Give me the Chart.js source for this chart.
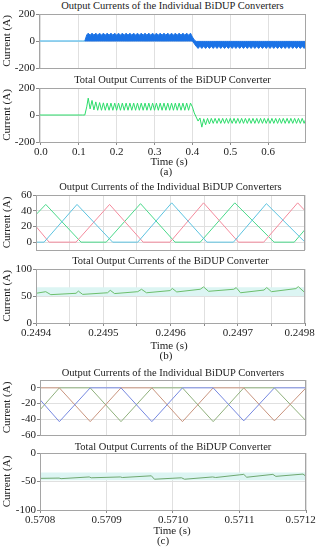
<!DOCTYPE html>
<html>
<head>
<meta charset="utf-8">
<script src="https://cdn.jsdelivr.net/npm/chart.js@4.4.0/dist/chart.umd.min.js"></script>
<style>
  body { margin: 0; width: 318px; height: 550px; background: #fff; position: relative; overflow: hidden;
         font-family: "Liberation Serif", "Times New Roman", serif; color: #222; }
  canvas { position: absolute; left: 0; }
  .t { position: absolute; text-align: center; font-size: 10.5px; line-height: 12px; white-space: nowrap; }
</style>
</head>
<body>
<div class="t" style="left:39px;width:267px;top:0px">Output Currents of the Individual BiDUP Converters</div>
<canvas id="a1"></canvas>
<div class="t" style="left:39px;width:267px;top:74px">Total Output Currents of the BiDUP Converter</div>
<canvas id="a2"></canvas>
<div class="t" style="left:119px;width:100px;top:155px;font-size:11px">Time (s)</div>
<div class="t" style="left:116px;width:100px;top:165px;font-size:11px">(a)</div>

<div class="t" style="left:36px;width:269px;top:181px">Output Currents of the Individual BiDUP Converters</div>
<canvas id="b1"></canvas>
<div class="t" style="left:36px;width:269px;top:255px">Total Output Currents of the BiDUP Converter</div>
<canvas id="b2"></canvas>
<div class="t" style="left:119px;width:100px;top:339px;font-size:11px">Time (s)</div>
<div class="t" style="left:116px;width:100px;top:349px;font-size:11px">(b)</div>

<div class="t" style="left:40px;width:266px;top:367px">Output Currents of the Individual BiDUP Converters</div>
<canvas id="c1"></canvas>
<div class="t" style="left:40px;width:266px;top:441px">Total Output Currents of the BiDUP Converter</div>
<canvas id="c2"></canvas>
<div class="t" style="left:122px;width:100px;top:524px;font-size:11px">Time (s)</div>
<div class="t" style="left:113px;width:100px;top:534px;font-size:11px">(c)</div>

<script>
// ---- (a) 0 - 0.7 s ----
var aTime = [-0.005, 0.110, 0.116, 0.121,
  0.125, 0.130, 0.135, 0.140, 0.145, 0.150, 0.155, 0.160, 0.165, 0.170,
  0.175, 0.180, 0.185, 0.190, 0.195, 0.200, 0.205, 0.210, 0.215, 0.220,
  0.225, 0.230, 0.235, 0.240, 0.245, 0.250, 0.255, 0.260, 0.265, 0.270,
  0.275, 0.280, 0.285, 0.290, 0.295, 0.300, 0.305, 0.310, 0.315, 0.320,
  0.325, 0.330, 0.335, 0.340, 0.345, 0.350, 0.355, 0.360, 0.365, 0.370,
  0.375, 0.380, 0.385, 0.390, 0.395,
  0.400, 0.405, 0.410,
  0.415, 0.420, 0.425, 0.430, 0.435, 0.440, 0.445, 0.450, 0.455, 0.460,
  0.465, 0.470, 0.475, 0.480, 0.485, 0.490, 0.495, 0.500, 0.505, 0.510,
  0.515, 0.520, 0.525, 0.530, 0.535, 0.540, 0.545, 0.550, 0.555, 0.560,
  0.565, 0.570, 0.575, 0.580, 0.585, 0.590, 0.595, 0.600, 0.605, 0.610,
  0.615, 0.620, 0.625, 0.630, 0.635, 0.640, 0.645, 0.650, 0.655, 0.660,
  0.665, 0.670, 0.675, 0.680, 0.685, 0.690, 0.695, 0.700];

// upper / lower edge of the individual converter currents band
var aBandTop = [0, 0, 0, 45,
  58, 43, 58, 43, 58, 43, 58, 43, 58, 43,
  58, 43, 58, 43, 58, 43, 58, 43, 58, 43,
  58, 43, 58, 43, 58, 43, 58, 43, 58, 43,
  58, 43, 58, 43, 58, 43, 58, 43, 58, 43,
  58, 43, 58, 43, 58, 43, 58, 43, 58, 43,
  58, 43, 58, 43, 58,
  30, 8, -3,
  -3, -3, -3, -3, -3, -3, -3, -3, -3, -3,
  -3, -3, -3, -3, -3, -3, -3, -3, -3, -3,
  -3, -3, -3, -3, -3, -3, -3, -3, -3, -3,
  -3, -3, -3, -3, -3, -3, -3, -3, -3, -3,
  -3, -3, -3, -3, -3, -3, -3, -3, -3, -3,
  -3, -3, -3, -3, -3, -3, -3, -3];
var aBandBot = [0, 0, 0, 0,
  0, 0, 0, 0, 0, 0, 0, 0, 0, 0,
  0, 0, 0, 0, 0, 0, 0, 0, 0, 0,
  0, 0, 0, 0, 0, 0, 0, 0, 0, 0,
  0, 0, 0, 0, 0, 0, 0, 0, 0, 0,
  0, 0, 0, 0, 0, 0, 0, 0, 0, 0,
  0, 0, 0, 0, 0,
  0, -20, -39,
  -55, -39, -55, -39, -55, -39, -55, -39, -55, -39,
  -55, -39, -55, -39, -55, -39, -55, -39, -55, -39,
  -55, -39, -55, -39, -55, -39, -55, -39, -55, -39,
  -55, -39, -55, -39, -55, -39, -55, -39, -55, -39,
  -55, -39, -55, -39, -55, -39, -55, -39, -55, -39,
  -55, -39, -55, -39, -55, -39, -55, -39];
var aTotal = [0, 0, 0, 60,
  125, 45, 108, 38, 97, 35, 92, 35, 90, 35,
  88, 35, 88, 35, 88, 35, 88, 35, 88, 35,
  88, 35, 88, 35, 88, 35, 88, 35, 88, 35,
  88, 35, 88, 35, 88, 35, 88, 35, 88, 35,
  88, 35, 88, 35, 88, 35, 88, 35, 88, 35,
  88, 35, 88, 35, 88,
  60, 15, -15,
  -45, -22, -90, -28, -72, -25, -66, -25, -62, -25,
  -62, -25, -62, -25, -62, -25, -62, -25, -62, -25,
  -62, -25, -62, -25, -62, -25, -62, -25, -62, -25,
  -62, -25, -62, -25, -62, -25, -62, -25, -62, -25,
  -62, -25, -62, -25, -62, -25, -62, -25, -62, -25,
  -62, -25, -62, -25, -62, -25, -62, -25];
var aTicksX = [0, 0.1, 0.2, 0.3, 0.4, 0.5, 0.6];
var aTicksY = [-200, 0, 200];

// ---- (b) 0.2494 - 0.2498 s ----
var bBlueT  = [0.2494, 0.2494120, 0.2494610, 0.2495139, 0.2495513, 0.2496018, 0.2496542, 0.2496936, 0.2497426, 0.2498];
var bBlueV  = [0, 0, 48, 0, 0, 50, 0, 0, 49, 0];
var bRedT   = [0.2494, 0.2494195, 0.2494595, 0.2495094, 0.2495593, 0.2495993, 0.2496491, 0.2497011, 0.2497386, 0.2497891, 0.2498];
var bRedV   = [20, 0, 0, 48, 0, 0, 50, 0, 0, 50, 40];
var bGreenT = [0.2494, 0.2494145, 0.2494670, 0.2495044, 0.2495554, 0.2496067, 0.2496442, 0.2496956, 0.2497540, 0.2497840, 0.2498];
var bGreenV = [35, 48, 0, 0, 49, 0, 0, 50, 0, 0, 16];
var bTotalT = [0.2494, 0.2494145, 0.2494220, 0.2494595, 0.2494630, 0.2494694, 0.2495064, 0.2495104, 0.2495169,
  0.2495513, 0.2495569, 0.2495643, 0.2495993, 0.2496027, 0.2496093, 0.2496442, 0.2496491, 0.2496566,
  0.2496941, 0.2496977, 0.2497041, 0.2497390, 0.2497431, 0.2497501, 0.2497865, 0.2497900, 0.2498];
var bTotalV = [55, 58, 52.5, 55, 59, 53, 56, 60.5, 54.5,
  58, 62.5, 56, 60, 64, 57.5, 62.5, 66.8, 58.7,
  62.5, 65.6, 56, 61, 65.6, 58, 63.7, 67.4, 56];
var bBand = [50, 66];
var bTicksX = [0.2494, 0.24945, 0.2495, 0.24955, 0.2496, 0.24965, 0.2497, 0.24975, 0.2498];
var bTicksY1 = [0, 20, 40, 60];
var bTicksY2 = [0, 50, 100];

// ---- (c) 0.5708 - 0.5712 s ----
var cTime   = [0.5708, 0.5708291, 0.5708755, 0.5709218, 0.5709682, 0.5710142, 0.5710604, 0.5711064, 0.5711525, 0.5712];
var cBlueV  = [-15, -43, 0, 0, -43, 0, 0, -42, 0, 0];
var cRedV   = [0, 0, -43, 0, 0, -43, 0, 0, -42, 0];
var cGreenV = [-28, 0, 0, -43, 0, 0, -43, 0, 0, -42];
var cTotalT = [0.5708, 0.5708287, 0.5708317, 0.5708740, 0.5708770, 0.5709208, 0.5709238, 0.5709675, 0.5709721,
  0.5710128, 0.5710174, 0.5710596, 0.5710642, 0.5711064, 0.5711109, 0.5711502, 0.5711547, 0.5711955, 0.5712];
var cTotalV = [-44.5, -44, -45, -42, -43.5, -42, -43, -40, -46,
  -43.5, -46, -42, -43, -37.5, -42.5, -37.5, -41, -37, -41];
var cBand = [-48, -34];
var cTicksX = [0.5708, 0.5709, 0.5710, 0.5711, 0.5712];
var cTicksY1 = [-60, -40, -20, 0];
var cTicksY2 = [-100, -50, 0];

Chart.defaults.font.family = "'Liberation Serif', 'Times New Roman', serif";
Chart.defaults.color = '#222';

function pts(xs, ys) {
  return xs.map(function (x, i) { return { x: x, y: ys[i] }; });
}

// grey frame round the plot area
var frame = {
  id: 'frame',
  afterDraw: function (chart) {
    var a = chart.chartArea, ctx = chart.ctx;
    ctx.save();
    ctx.strokeStyle = '#a5a5a5';
    ctx.lineWidth = 1;
    ctx.strokeRect(Math.round(a.left) + 0.5, Math.round(a.top) + 0.5,
      Math.round(a.right - a.left) - 1, Math.round(a.bottom - a.top));
    ctx.restore();
  }
};

var PAD = 8;
function panel(id, box, xs, ys, datasets) {
  var xH = xs.labels ? 16 : 0;
  var cv = document.getElementById(id);
  cv.width = 318;
  cv.height = box.bottom - box.top + PAD + xH + PAD;
  cv.style.top = (box.top - PAD) + 'px';
  return new Chart(cv, {
    type: 'line',
    data: { datasets: datasets },
    options: {
      responsive: false,
      animation: false,
      layout: { padding: { top: PAD, bottom: PAD, left: 0, right: 318 - box.right } },
      plugins: { legend: { display: false }, tooltip: { enabled: false } },
      elements: { point: { radius: 0 }, line: { borderWidth: 1, tension: 0 } },
      scales: {
        x: {
          type: 'linear', min: xs.min, max: xs.max,
          afterBuildTicks: function (s) { s.ticks = xs.ticks.map(function (v) { return { value: v }; }); },
          afterFit: function (s) { s.height = xH; s.paddingLeft = 0; s.paddingRight = 0; },
          grid: { color: '#e0e0e0', tickColor: '#8a8a8a', tickLength: 3, drawTicks: xs.labels },
          border: { display: false },
          ticks: { display: xs.labels, padding: 1, maxRotation: 0, autoSkip: false,
                   font: { size: 11 }, callback: xs.fmt }
        },
        y: {
          min: ys.min, max: ys.max,
          afterBuildTicks: function (s) { s.ticks = ys.ticks.map(function (v) { return { value: v }; }); },
          afterFit: function (s) { s.width = box.left; s.paddingTop = 0; s.paddingBottom = 0; },
          grid: { color: '#e0e0e0', tickColor: '#8a8a8a', tickLength: 3 },
          border: { display: false },
          ticks: { padding: 1, autoSkip: false, font: { size: 11 }, callback: function (v) { return String(v); } },
          title: { display: true, text: 'Current (A)', font: { size: 11 }, padding: { top: 1, bottom: 0 } }
        }
      }
    },
    plugins: [frame]
  });
}

var fmtA = function (v) { return v.toFixed(1); };
// the last label sits a little inside the right edge, as in the original
var fmtB = function (v, i, t) {
  if (Math.round(v * 1e5) % 2 !== 0) return '';
  return v.toFixed(4) + (i === t.length - 1 ? '\u00a0\u00a0\u00a0\u00a0' : '');
};
var fmtC = function (v, i, t) {
  return v.toFixed(4) + (i === t.length - 1 ? '\u00a0\u00a0\u00a0\u00a0' : '');
};

// (a) top
panel('a1', { left: 39, right: 306, top: 14, bottom: 68 },
  { min: -0.005, max: 0.7, ticks: aTicksX, labels: false },
  { min: -200, max: 200, ticks: aTicksY }, [
    { data: pts(aTime, aBandTop), borderColor: '#1a72e6', backgroundColor: '#1a72e6', fill: '+1',
      segment: { borderColor: function (c) { return c.p0.parsed.x < 0.112 ? '#72c6ee' : '#1a72e6'; } } },
    { data: pts(aTime, aBandBot), borderColor: '#1a72e6',
      segment: { borderColor: function (c) { return c.p0.parsed.x < 0.112 ? '#72c6ee' : '#1a72e6'; } } }
  ]);

// (a) bottom
panel('a2', { left: 39, right: 306, top: 88, bottom: 142 },
  { min: -0.005, max: 0.7, ticks: aTicksX, labels: true, fmt: fmtA },
  { min: -200, max: 200, ticks: aTicksY }, [
    { data: pts(aTime, aTotal), borderColor: '#2cdc6a' }
  ]);

// (b) top
panel('b1', { left: 36, right: 305, top: 195, bottom: 250 },
  { min: 0.2494, max: 0.2498, ticks: bTicksX, labels: false },
  { min: -10, max: 60, ticks: bTicksY1 }, [
    { data: pts(bBlueT, bBlueV), borderColor: '#5cc3e0' },
    { data: pts(bRedT, bRedV), borderColor: '#f48a9c' },
    { data: pts(bGreenT, bGreenV), borderColor: '#4ad98a' }
  ]);

// (b) bottom
panel('b2', { left: 36, right: 305, top: 269, bottom: 323 },
  { min: 0.2494, max: 0.2498, ticks: bTicksX, labels: true, fmt: fmtB },
  { min: 0, max: 100, ticks: bTicksY2 }, [
    { data: pts(bTotalT, bTotalV), borderColor: '#6cbf6c', order: 0 },
    { data: pts([0.2494, 0.2498], [bBand[1], bBand[1]]), borderColor: 'rgba(0,0,0,0)',
      backgroundColor: '#dcf5f3', fill: '+1', order: 1 },
    { data: pts([0.2494, 0.2498], [bBand[0], bBand[0]]), borderColor: 'rgba(0,0,0,0)', order: 1 }
  ]);

// (c) top
panel('c1', { left: 40, right: 306, top: 380, bottom: 435 },
  { min: 0.5708, max: 0.5712, ticks: cTicksX, labels: false },
  { min: -60, max: 10, ticks: cTicksY1 }, [
    { data: pts(cTime, cBlueV), borderColor: '#7688e0' },
    { data: pts(cTime, cRedV), borderColor: '#c8947e' },
    { data: pts(cTime, cGreenV), borderColor: '#8fb07c' }
  ]);

// (c) bottom
panel('c2', { left: 40, right: 306, top: 453, bottom: 510 },
  { min: 0.5708, max: 0.5712, ticks: cTicksX, labels: true, fmt: fmtC },
  { min: -100, max: 0, ticks: cTicksY2 }, [
    { data: pts(cTotalT, cTotalV), borderColor: '#6fa86f', order: 0 },
    { data: pts([0.5708, 0.5712], [cBand[1], cBand[1]]), borderColor: 'rgba(0,0,0,0)',
      backgroundColor: '#dcf5f3', fill: '+1', order: 1 },
    { data: pts([0.5708, 0.5712], [cBand[0], cBand[0]]), borderColor: 'rgba(0,0,0,0)', order: 1 }
  ]);
</script>
</body>
</html>
